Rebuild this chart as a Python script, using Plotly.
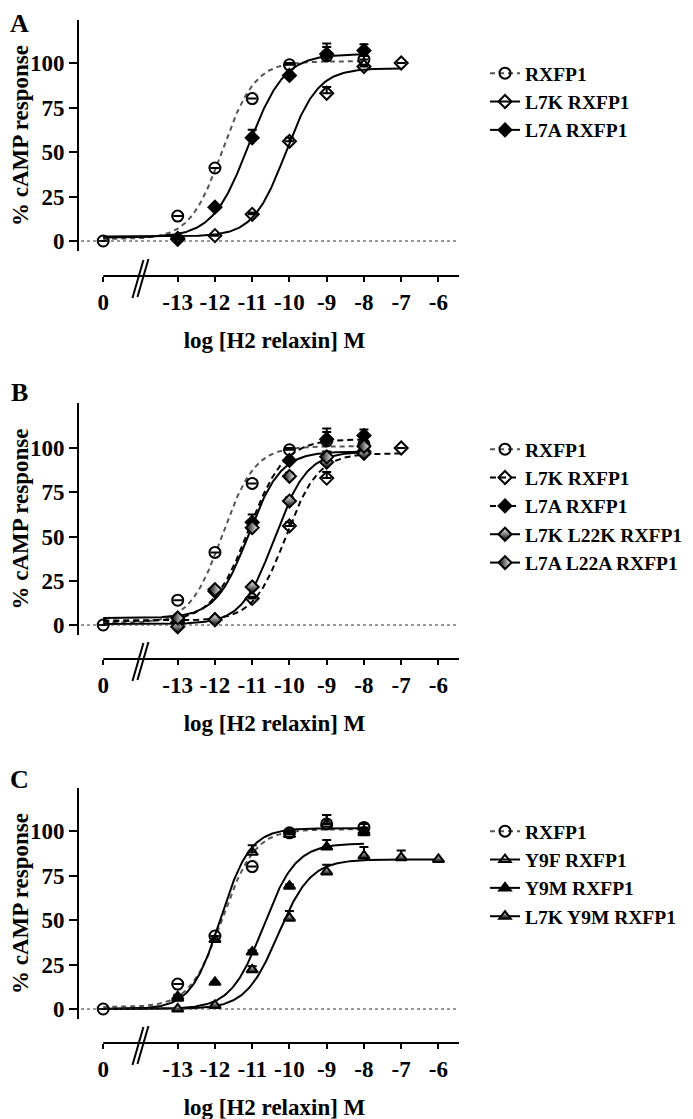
import numpy as np
import plotly.graph_objects as go

W, H = 693, 1119
OFF = 8  # the page body has an 8px margin; positions below are in reference-picture pixels
ZERO = -15  # axis position used for the "0" (no ligand) control

tick_vals = [ZERO, -13, -12, -11, -10, -9, -8, -7, -6]
tick_text = ["0", "-13", "-12", "-11", "-10", "-9", "-8", "-7", "-6"]
y_ticks = [0, 25, 50, 75, 100]

# ---------------- data ----------------
# fit = [bottom, top, logEC50, hill]
rxfp1_x = [ZERO, -13, -12, -11, -10, -9, -8]
rxfp1_y = [0, 14, 41, 80, 99, 104, 102]
rxfp1_err = [0, 0, 0, 0, 1, 5, 2]
rxfp1_fit = [1, 101, -11.8, 1.0]

l7k_x = [-13, -12, -11, -10, -9, -8, -7]
l7k_y = [1.5, 3, 15, 56, 83, 98, 100]
l7k_err = [0, 0, 1, 2, 3.5, 1, 0]
l7k_fit = [2.5, 97, -10.1, 1.0]

l7a_x = [-13, -12, -11, -10, -9, -8]
l7a_y = [1, 19, 58, 93, 105, 107]
l7a_err = [0, 0, 4.5, 1.5, 6, 3.5]
l7a_fit = [2, 105, -11.1, 0.9]

l7k_l22k_x = [-13, -12, -11, -10, -9, -8]
l7k_l22k_y = [-1, 3, 21.5, 70, 92, 97]
l7k_l22k_err = [0, 0, 1, 2, 3, 2]
l7k_l22k_fit = [0.5, 98, -10.4, 1.0]

l7a_l22a_x = [-13, -12, -11, -10, -9, -8]
l7a_l22a_y = [4, 20, 55, 84, 95, 101]
l7a_l22a_err = [0, 0, 2, 2, 3, 3]
l7a_l22a_fit = [4, 98, -11.1, 1.0]

y9f_x = [-13, -12, -11, -10, -9, -8]
y9f_y = [6, 39, 88, 98, 104, 100]
y9f_err = [0, 2, 4, 3, 5, 1]
y9f_fit = [0, 101.5, -11.85, 1.1]

y9m_x = [-13, -12, -11, -10, -9, -8]
y9m_y = [7, 15, 32, 69, 91, 99]
y9m_err = [1, 0, 1, 1, 4, 2]
y9m_fit = [0, 93, -10.7, 1.0]

l7k_y9m_x = [-13, -12, -11, -10, -9, -8, -7, -6]
l7k_y9m_y = [0, 2, 22, 51, 77, 86, 85, 84]
l7k_y9m_err = [0, 0, 2, 4, 4, 5, 4, 0]
l7k_y9m_fit = [0, 84, -10.3, 1.0]

# ---------------- styles ----------------
FONT = "Liberation Serif"
GRAY = "#555555"
S_RX = dict(name="RXFP1", line=dict(color=GRAY, width=2, dash="5px,4px"),
            marker=dict(symbol="circle-open", size=11, color="black", line=dict(width=2, color="black")))
S_L7K = dict(name="L7K RXFP1", line=dict(color="black", width=2),
             marker=dict(symbol="diamond-open", size=10, color="black", line=dict(width=2, color="black")))
S_L7A = dict(name="L7A RXFP1", line=dict(color="black", width=2),
             marker=dict(symbol="diamond", size=10, color="black", line=dict(width=2, color="black")))
S_L7K_D = dict(S_L7K, line=dict(color="black", width=2, dash="6px,4px"))
S_L7A_D = dict(S_L7A, line=dict(color="black", width=2, dash="6px,4px"))
S_KK = dict(name="L7K L22K RXFP1", line=dict(color="black", width=2),
            marker=dict(symbol="diamond", size=10, color="white",
                        gradient=dict(type="vertical", color="black"), line=dict(width=2, color="black")))
S_AA = dict(name="L7A L22A RXFP1", line=dict(color="black", width=2),
            marker=dict(symbol="diamond", size=10, color="black",
                        gradient=dict(type="horizontal", color="white"), line=dict(width=2, color="black")))
S_Y9F = dict(name="Y9F RXFP1", line=dict(color="black", width=2),
             marker=dict(symbol="triangle-up-open", size=10, color="black", line=dict(width=2, color="black")))
S_Y9M = dict(name="Y9M RXFP1", line=dict(color="black", width=2),
             marker=dict(symbol="triangle-up", size=10, color="black", line=dict(width=2, color="black")))
S_KY = dict(name="L7K Y9M RXFP1", line=dict(color="black", width=2),
            marker=dict(symbol="triangle-up", size=10, color="white",
                        gradient=dict(type="vertical", color="black"), line=dict(width=2, color="black")))


def logistic(x, p):
    bottom, top, ec50, hill = p
    return bottom + (top - bottom) / (1 + 10 ** ((ec50 - x) * hill))


panels = [
    dict(letter="A", ypx=(20, 251), y0px=241, ysc=1.78, xaxis_px=276, letter_px=(19, 8, "top"), legend_top=54,
         series=[(rxfp1_x, rxfp1_y, rxfp1_err, rxfp1_fit, S_RX),
                 (l7k_x, l7k_y, l7k_err, l7k_fit, S_L7K),
                 (l7a_x, l7a_y, l7a_err, l7a_fit, S_L7A)]),
    dict(letter="B", ypx=(403, 635), y0px=625, ysc=1.77, xaxis_px=659, letter_px=(19, 392, "middle"), legend_top=430,
         series=[(rxfp1_x, rxfp1_y, rxfp1_err, rxfp1_fit, S_RX),
                 (l7k_x, l7k_y, l7k_err, l7k_fit, S_L7K_D),
                 (l7a_x, l7a_y, l7a_err, l7a_fit, S_L7A_D),
                 (l7k_l22k_x, l7k_l22k_y, l7k_l22k_err, l7k_l22k_fit, S_KK),
                 (l7a_l22a_x, l7a_l22a_y, l7a_l22a_err, l7a_l22a_fit, S_AA)]),
    dict(letter="C", ypx=(788, 1019), y0px=1009, ysc=1.78, xaxis_px=1043, letter_px=(19, 779, "middle"), legend_top=812,
         series=[(rxfp1_x, rxfp1_y, rxfp1_err, rxfp1_fit, S_RX),
                 (y9f_x, y9f_y, y9f_err, y9f_fit, S_Y9F),
                 (y9m_x, y9m_y, y9m_err, y9m_fit, S_Y9M),
                 (l7k_y9m_x, l7k_y9m_y, l7k_y9m_err, l7k_y9m_fit, S_KY)]),
]

X_DOM_PX = (79, 470)


def xval(px):
    return -13 + (px - 177.7) / 37.25


def xpaper(px):
    return (px - OFF) / W


def ypaper(px):
    return 1 - (px - OFF) / H


fig = go.Figure()
shapes, annotations = [], []
layout = dict(width=W, height=H, margin=dict(l=0, r=0, t=0, b=0, autoexpand=False),
              plot_bgcolor="white", paper_bgcolor="white",
              font=dict(family=FONT, size=22, color="black", weight="bold"))

for i, pn in enumerate(panels):
    n = "" if i == 0 else str(i + 1)
    xa, ya = "x" + n, "y" + n
    lg = "legend" + n
    top_px, bot_px = pn["ypx"]
    yr = [(pn["y0px"] - bot_px) / pn["ysc"], (pn["y0px"] - top_px) / pn["ysc"]]

    # curves
    for sx, sy, se, fit, st in pn["series"]:
        cx = np.linspace(ZERO, max(sx), 300)
        fig.add_trace(go.Scatter(x=cx, y=logistic(cx, fit), mode="lines", line=st["line"],
                                 xaxis=xa, yaxis=ya, showlegend=False, legendgroup=lg + st["name"],
                                 hoverinfo="skip"))
    # points
    for sx, sy, se, fit, st in pn["series"]:
        fig.add_trace(go.Scatter(x=sx, y=sy, mode="markers", marker=st["marker"],
                                 error_y=dict(type="data", array=se, symmetric=False,
                                              arrayminus=[0] * len(se), color="black",
                                              thickness=2, width=4.5),
                                 xaxis=xa, yaxis=ya, showlegend=False, legendgroup=lg + st["name"],
                                 cliponaxis=False, name=st["name"]))
    # legend entries
    for sx, sy, se, fit, st in pn["series"]:
        fig.add_trace(go.Scatter(x=[None], y=[None], mode="lines+markers", name=st["name"],
                                 line=st["line"], marker=st["marker"], xaxis=xa, yaxis=ya,
                                 legend=lg, legendgroup=lg + st["name"]))

    layout["xaxis" + n] = dict(
        domain=[xpaper(X_DOM_PX[0]), xpaper(X_DOM_PX[1])], range=[xval(X_DOM_PX[0]), xval(X_DOM_PX[1])],
        anchor="free", position=ypaper(pn["xaxis_px"]), showline=False, showgrid=False, zeroline=False,
        automargin=False,
        tickmode="array", tickvals=tick_vals, ticktext=tick_text, ticks="outside", ticklen=5,
        tickwidth=2, tickcolor="black", tickfont=dict(size=23, family=FONT, weight="bold"),
        title=dict(text="log [H2 relaxin] M", font=dict(size=23, family=FONT, weight="bold"), standoff=18))
    layout["yaxis" + n] = dict(
        domain=[ypaper(bot_px), ypaper(top_px)], range=yr, anchor=xa, showline=True, linewidth=2,
        automargin=False,
        linecolor="black", showgrid=False, zeroline=False, tickmode="array", tickvals=y_ticks,
        ticks="outside", ticklen=8, tickwidth=2, tickcolor="black",
        tickfont=dict(size=23, family=FONT, weight="bold"),
        title=dict(text="% cAMP response", font=dict(size=23, family=FONT, weight="bold"), standoff=6))
    layout[lg] = dict(x=xpaper(485), y=ypaper(pn["legend_top"]), xanchor="left", yanchor="top",
                      font=dict(size=19.5, family=FONT, weight="bold"), bgcolor="rgba(0,0,0,0)",
                      tracegroupgap=0, itemwidth=30)

    ax_y = ypaper(pn["xaxis_px"])
    # separate x axis line (starts at the "0" tick)
    shapes.append(dict(type="line", xref=xa, yref="paper", x0=ZERO, x1=xval(459), y0=ax_y, y1=ax_y,
                       line=dict(color="black", width=2)))
    # dotted zero baseline
    shapes.append(dict(type="line", xref=xa, yref=ya, x0=xval(81), x1=xval(459), y0=0, y1=0,
                       line=dict(color="#333333", width=1, dash="dot")))
    # axis break marks "//"
    for dx0, dy0, dx1, dy1 in [(-8, -22, 3, 16), (-3, -21, 8, 17)]:
        shapes.append(dict(type="line", xref=xa, yref="paper", xsizemode="pixel", ysizemode="pixel",
                           xanchor=-14, yanchor=ax_y, x0=dx0, x1=dx1, y0=dy0, y1=dy1,
                           line=dict(color="black", width=2)))
    lx, ly, lanchor = pn["letter_px"]
    annotations.append(dict(text=pn["letter"], x=xpaper(lx), y=ypaper(ly), xref="paper", yref="paper",
                            showarrow=False, font=dict(size=26, family=FONT, weight="bold"),
                            xanchor="center", yanchor=lanchor, borderpad=0))

layout["shapes"] = shapes
layout["annotations"] = annotations
fig.update_layout(**layout)
fig.write_html("out.html")
